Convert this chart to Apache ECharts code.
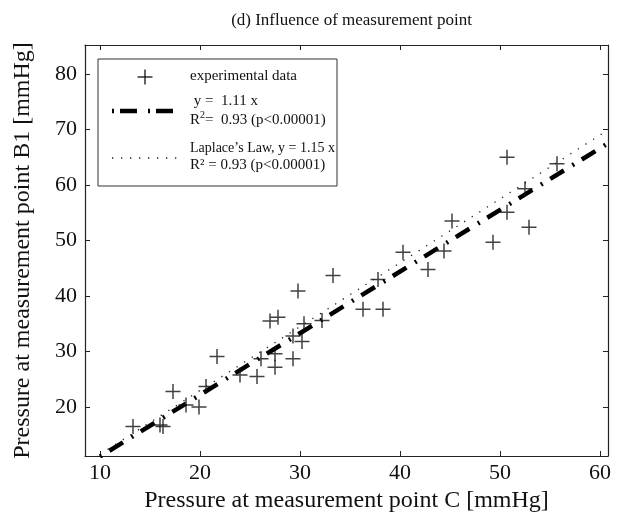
<!DOCTYPE html>
<html>
<head>
<meta charset="utf-8">
<script src="https://cdn.jsdelivr.net/npm/echarts@6/dist/echarts.min.js"></script>
<style>html,body{margin:0;padding:0;background:#fff;}#c{width:617px;height:524px;}</style>
</head>
<body>
<div id="c"></div>
<script>
// Experimental data: pressure at C (x) vs pressure at B1 (y), mmHg
var expX = [13.3, 16.0, 16.3, 17.3, 18.6, 19.9, 20.6, 21.7, 24.0, 25.7, 26.1, 27.5, 27.5, 29.3, 29.3, 30.2, 27.0, 27.8, 30.4, 32.2, 29.8, 33.3, 36.3, 38.3, 37.8, 40.3, 42.8, 44.4, 45.2, 49.3, 50.7, 50.7, 52.5, 52.9, 55.7];
var expY = [16.5, 16.8, 16.5, 22.8, 20.4, 20.0, 23.7, 29.1, 25.8, 25.5, 28.7, 27.2, 29.6, 28.7, 32.8, 31.8, 35.5, 36.2, 35.0, 35.6, 40.9, 43.7, 37.6, 37.6, 43.0, 47.9, 44.8, 48.1, 53.5, 49.7, 55.1, 65.0, 59.3, 52.4, 63.8];
// Regression line y = 1.11 x and Laplace's law y = 1.15 x (end points)
var lineX = [10, 60.8];
var fitY = [11.1, 67.5];
var lawY = [11.5, 69.9];
// Tick labels
var xTicks = [10, 20, 30, 40, 50, 60];
var yTicks = [20, 30, 40, 50, 60, 70, 80];

var FONT = '"Liberation Serif", "Times New Roman", serif';
var AX = '#222';

function pairs(xs, ys) { return xs.map(function (x, i) { return [x, ys[i]]; }); }

var plusPath = 'path://M7.2,0H8.8V7.2H16V8.8H8.8V16H7.2V8.8H0V7.2H7.2Z';
var dashDot = [2, 9, 16, 10];

var chart = echarts.init(document.getElementById('c'), null, { renderer: 'canvas' });
var option = {
  backgroundColor: '#fff',
  animation: false,
  title: {
    text: '(d) Influence of measurement point',
    left: 346.5, top: 7, textAlign: 'center',
    textStyle: { fontFamily: FONT, fontSize: 17, fontWeight: 'normal', color: '#111' }
  },
  grid: { left: 85, right: 9, top: 45, bottom: 68, containLabel: false, outerBoundsMode: 'none' },
  xAxis: [{
    type: 'value', min: 8.5, max: 60.8, position: 'bottom',
    name: 'Pressure at measurement point C [mmHg]', nameLocation: 'middle', nameGap: 31,
    nameTextStyle: { fontFamily: FONT, fontSize: 24, color: '#111' },
    axisLine: { show: true, lineStyle: { color: AX, width: 1.2 } },
    axisTick: { show: true, inside: true, length: 5, customValues: xTicks, lineStyle: { color: AX } },
    axisLabel: { customValues: xTicks, margin: 6, fontFamily: FONT, fontSize: 22, color: '#111' },
    splitLine: { show: false }
  }, {
    type: 'value', min: 8.5, max: 60.8, position: 'top',
    axisLine: { show: true, onZero: false, lineStyle: { color: AX, width: 1.2 } },
    axisTick: { show: true, inside: true, length: 5, customValues: xTicks, lineStyle: { color: AX } },
    axisLabel: { show: false }, splitLine: { show: false }
  }],
  yAxis: [{
    type: 'value', min: 11.2, max: 85.2, position: 'left',
    name: 'Pressure at measurement point B1 [mmHg]', nameLocation: 'middle', nameGap: 50,
    nameTextStyle: { fontFamily: FONT, fontSize: 24, color: '#111' },
    axisLine: { show: true, onZero: false, lineStyle: { color: AX, width: 1.2 } },
    axisTick: { show: true, inside: true, length: 5, customValues: yTicks, lineStyle: { color: AX } },
    axisLabel: { customValues: yTicks, margin: 8, fontFamily: FONT, fontSize: 22, color: '#111' },
    splitLine: { show: false }
  }, {
    type: 'value', min: 11.2, max: 85.2, position: 'right',
    axisLine: { show: true, onZero: false, lineStyle: { color: AX, width: 1.2 } },
    axisTick: { show: true, inside: true, length: 5, customValues: yTicks, lineStyle: { color: AX } },
    axisLabel: { show: false }, splitLine: { show: false }
  }],
  series: [{
    name: "Laplace's Law", type: 'line', data: pairs(lineX, lawY), showSymbol: false, clip: true,
    lineStyle: { color: '#222', width: 1.3, type: [1.3, 7.7] }, z: 2
  }, {
    name: 'fit', type: 'line', data: pairs(lineX, fitY), showSymbol: false, clip: true,
    lineStyle: { color: '#000', width: 4.5, type: dashDot, cap: 'butt' }, z: 3
  }, {
    name: 'experimental data', type: 'scatter', data: pairs(expX, expY),
    symbol: plusPath, symbolSize: 15, itemStyle: { color: '#111' }, z: 4
  }],
  graphic: [
    { type: 'rect', shape: { x: 98, y: 59, width: 239, height: 127 }, style: { fill: '#fff', stroke: '#333', lineWidth: 1 }, z: 10 },
    { type: 'line', shape: { x1: 137.5, y1: 77, x2: 152.5, y2: 77 }, style: { stroke: '#111', lineWidth: 1.3 }, z: 11 },
    { type: 'line', shape: { x1: 145, y1: 69.5, x2: 145, y2: 84.5 }, style: { stroke: '#111', lineWidth: 1.3 }, z: 11 },
    { type: 'line', shape: { x1: 112, y1: 111, x2: 177, y2: 111 }, style: { stroke: '#000', lineWidth: 4.5, lineDash: [2, 6, 17, 11] }, z: 11 },
    { type: 'line', shape: { x1: 112, y1: 158, x2: 178, y2: 158 }, style: { stroke: '#222', lineWidth: 1.3, lineDash: [1.3, 7.7] }, z: 11 },
    { type: 'text', z: 11, style: { x: 190, y: 76, text: 'experimental data', font: '15px ' + FONT, fill: '#111', verticalAlign: 'middle' } },
    { type: 'text', z: 11, style: { x: 190, y: 101, text: ' y =  1.11 x', font: '15px ' + FONT, fill: '#111', verticalAlign: 'middle' } },
    { type: 'text', z: 11, style: { x: 190, y: 120, text: '{n|R}{s|2}{n|=  0.93 (p<0.00001)}', fill: '#111', verticalAlign: 'middle',
      rich: { n: { fontFamily: FONT, fontSize: 15, fill: '#111' }, s: { fontFamily: FONT, fontSize: 10, fill: '#111', padding: [0, 0, 9, 0] } } } },
    { type: 'text', z: 11, style: { x: 190, y: 148, text: 'Laplace\u2019s Law, y = 1.15 x', font: '14px ' + FONT, fill: '#111', verticalAlign: 'middle' } },
    { type: 'text', z: 11, style: { x: 190, y: 165, text: 'R\u00b2 = 0.93 (p<0.00001)', font: '15px ' + FONT, fill: '#111', verticalAlign: 'middle' } }
  ]
};
chart.setOption(option);
</script>
</body>
</html>
